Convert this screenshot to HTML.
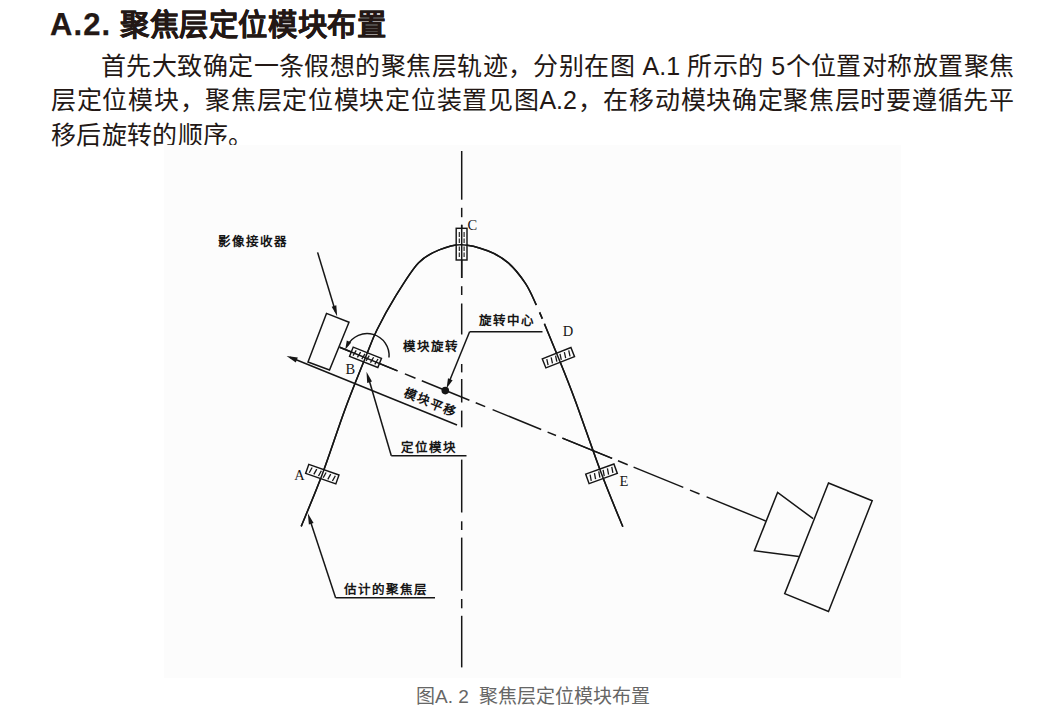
<!DOCTYPE html>
<html lang="zh-CN"><head><meta charset="utf-8"><style>
html,body{margin:0;padding:0;background:#fff;}
body{width:1041px;height:718px;position:relative;overflow:hidden;font-family:"Liberation Sans",sans-serif;color:#231815;}
h2 .lat{letter-spacing:1.1px;font-size:31px;}
h2{position:absolute;left:50px;top:3px;margin:0;font-size:29.3px;letter-spacing:0.6px;line-height:44px;font-weight:bold;-webkit-text-stroke:0.25px #231815;white-space:nowrap;}
.body{position:absolute;left:51px;top:48.5px;width:963px;margin:0;font-size:25px;line-height:34.5px;}
.body div{white-space:nowrap;}
.body .j{text-align:justify;text-align-last:justify;}
.body .ind{padding-left:50px;}
.imgbg{position:absolute;left:164px;top:145px;width:737px;height:533px;background:#fcfcfc;}
svg.fig{position:absolute;left:0;top:0;}
.lb{font-family:"Liberation Serif",serif;font-weight:bold;font-size:12.5px;letter-spacing:1.1px;fill:#161616;}
.lt{font-family:"Liberation Serif",serif;font-size:14.5px;fill:#161616;}
.cap{position:absolute;left:416px;top:683px;font-size:19px;line-height:28px;color:#666;white-space:nowrap;}
</style></head><body>
<h2><span class="lat">A.2.</span> 聚焦层定位模块布置</h2>
<div class="body"><div class="j ind">首先大致确定一条假想的聚焦层轨迹，分别在图 A.1 所示的 5个位置对称放置聚焦</div><div class="j">层定位模块，聚焦层定位模块定位装置见图A.2，在移动模块确定聚焦层时要遵循先平</div><div style="letter-spacing:0.35px">移后旋转的顺序。</div></div>
<div class="imgbg"></div>
<svg class="fig" width="1041" height="718" viewBox="0 0 1041 718"><line x1="461.7" y1="151.0" x2="461.7" y2="199.7" stroke="#161616" stroke-width="1.50"/><line x1="461.7" y1="207.8" x2="461.7" y2="217.2" stroke="#161616" stroke-width="1.50"/><line x1="461.7" y1="224.8" x2="461.7" y2="278.0" stroke="#161616" stroke-width="1.50"/><line x1="461.7" y1="286.2" x2="461.7" y2="295.0" stroke="#161616" stroke-width="1.50"/><line x1="461.7" y1="303.5" x2="461.7" y2="334.5" stroke="#161616" stroke-width="1.50"/><line x1="461.7" y1="364.0" x2="461.7" y2="372.4" stroke="#161616" stroke-width="1.50"/><line x1="461.7" y1="379.0" x2="461.7" y2="402.5" stroke="#161616" stroke-width="1.50"/><line x1="461.7" y1="410.6" x2="461.7" y2="427.3" stroke="#161616" stroke-width="1.50"/><line x1="461.7" y1="459.6" x2="461.7" y2="512.5" stroke="#161616" stroke-width="1.50"/><line x1="461.7" y1="521.3" x2="461.7" y2="530.0" stroke="#161616" stroke-width="1.50"/><line x1="461.7" y1="537.6" x2="461.7" y2="590.7" stroke="#161616" stroke-width="1.50"/><line x1="461.7" y1="599.0" x2="461.7" y2="608.3" stroke="#161616" stroke-width="1.50"/><line x1="461.7" y1="615.8" x2="461.7" y2="667.4" stroke="#161616" stroke-width="1.50"/><path d="M 301.2 526.4 C 304.7 517.7 315.0 493.6 322.3 474.2 C 329.6 454.8 337.6 429.5 344.8 410.0 C 352.0 390.5 360.1 370.7 365.5 357.4 C 370.9 344.1 371.8 340.3 376.9 330.0 C 382.0 319.7 389.0 306.9 395.9 295.7 C 402.8 284.5 411.2 270.5 418.4 262.9 C 425.6 255.3 432.0 252.9 439.2 249.9 C 446.4 246.9 453.5 244.5 461.6 244.7 C 469.7 244.8 479.8 247.8 487.6 250.8 C 495.4 253.8 502.0 257.4 508.3 262.9 C 514.6 268.4 521.0 276.7 525.6 283.6 C 530.2 290.5 532.8 297.6 536.0 304.4 C 539.2 311.2 540.9 315.3 544.6 324.2 C 548.3 333.1 553.3 345.1 558.4 357.7 C 563.5 370.3 567.8 380.6 575.0 400.0 C 582.2 419.4 593.5 452.7 601.5 473.8 C 609.5 494.9 619.2 517.9 622.8 526.7" fill="none" stroke="#161616" stroke-width="1.50"/><line x1="536.3" y1="305.2" x2="539.3" y2="312.4" stroke="#fcfcfc" stroke-width="3.00"/><line x1="542.2" y1="318.8" x2="544.4" y2="323.6" stroke="#fcfcfc" stroke-width="3.00"/><line x1="339.7" y1="347.3" x2="397.5" y2="370.9" stroke="#161616" stroke-width="1.50"/><line x1="404.9" y1="373.9" x2="415.5" y2="378.2" stroke="#161616" stroke-width="1.50"/><line x1="421.8" y1="380.8" x2="469.4" y2="400.2" stroke="#161616" stroke-width="1.50"/><line x1="475.7" y1="402.7" x2="485.2" y2="406.6" stroke="#161616" stroke-width="1.50"/><line x1="492.6" y1="409.6" x2="541.2" y2="429.5" stroke="#161616" stroke-width="1.50"/><line x1="547.6" y1="432.1" x2="556.0" y2="435.5" stroke="#161616" stroke-width="1.50"/><line x1="562.4" y1="438.1" x2="612.1" y2="458.4" stroke="#161616" stroke-width="1.50"/><line x1="618.0" y1="460.8" x2="627.7" y2="464.7" stroke="#161616" stroke-width="1.50"/><line x1="633.6" y1="467.1" x2="683.3" y2="487.4" stroke="#161616" stroke-width="1.50"/><line x1="690.0" y1="490.1" x2="699.5" y2="494.0" stroke="#161616" stroke-width="1.50"/><line x1="706.6" y1="496.9" x2="765.7" y2="521.0" stroke="#161616" stroke-width="1.50"/><line x1="290.0" y1="357.3" x2="457.0" y2="425.0" stroke="#161616" stroke-width="1.50"/><polygon points="286.6,355.9 297.8,357.6 295.8,362.4" fill="#161616"/><polygon points="326.5,313.4 349.0,322.2 329.5,370.0 308.0,362.0" fill="none" stroke="#161616" stroke-width="1.50" stroke-linejoin="miter"/><line x1="317.6" y1="252.4" x2="335.5" y2="311.5" stroke="#161616" stroke-width="1.50"/><polygon points="337.2,316.5 331.7,306.7 336.3,305.3" fill="#161616"/><g transform="translate(365.5 357.4) rotate(21.6)"><rect x="-15.2" y="-5.0" width="30.4" height="9.9" fill="#fcfcfc" stroke="#161616" stroke-width="1.45"/><path d="M -11.2 -3.1 l -1 6.1" stroke="#161616" stroke-width="1.3" fill="none"/><path d="M -6.5 -3.1 l -1 6.1" stroke="#161616" stroke-width="1.3" fill="none"/><path d="M -1.8 -3.1 l -1 6.1" stroke="#161616" stroke-width="1.3" fill="none"/><path d="M 2.8 -3.1 l -1 6.1" stroke="#161616" stroke-width="1.3" fill="none"/><path d="M 7.5 -3.1 l -1 6.1" stroke="#161616" stroke-width="1.3" fill="none"/><path d="M 12.2 -3.1 l -1 6.1" stroke="#161616" stroke-width="1.3" fill="none"/></g><rect x="456.2" y="228.3" width="10.8" height="31.7" fill="#fcfcfc" stroke="#161616" stroke-width="1.45"/><line x1="459.3" y1="232.0" x2="459.3" y2="237.0" stroke="#161616" stroke-width="1.10"/><line x1="459.3" y1="238.5" x2="459.3" y2="243.0" stroke="#161616" stroke-width="1.10"/><line x1="459.3" y1="246.5" x2="459.3" y2="251.0" stroke="#161616" stroke-width="1.10"/><line x1="459.3" y1="252.5" x2="459.3" y2="257.0" stroke="#161616" stroke-width="1.10"/><line x1="464.1" y1="232.0" x2="464.1" y2="237.0" stroke="#161616" stroke-width="1.10"/><line x1="464.1" y1="238.5" x2="464.1" y2="243.0" stroke="#161616" stroke-width="1.10"/><line x1="464.1" y1="246.5" x2="464.1" y2="251.0" stroke="#161616" stroke-width="1.10"/><line x1="464.1" y1="252.5" x2="464.1" y2="257.0" stroke="#161616" stroke-width="1.10"/><g transform="translate(558.4 357.7) rotate(-21.6)"><rect x="-15.4" y="-4.9" width="30.8" height="9.8" fill="#fcfcfc" stroke="#161616" stroke-width="1.45"/><path d="M -11.3 -3.0 l -1 6.1" stroke="#161616" stroke-width="1.3" fill="none"/><path d="M -6.6 -3.0 l -1 6.1" stroke="#161616" stroke-width="1.3" fill="none"/><path d="M -1.9 -3.0 l -1 6.1" stroke="#161616" stroke-width="1.3" fill="none"/><path d="M 2.9 -3.0 l -1 6.1" stroke="#161616" stroke-width="1.3" fill="none"/><path d="M 7.6 -3.0 l -1 6.1" stroke="#161616" stroke-width="1.3" fill="none"/><path d="M 12.3 -3.0 l -1 6.1" stroke="#161616" stroke-width="1.3" fill="none"/></g><g transform="translate(601.5 473.8) rotate(-19.8)"><rect x="-15.0" y="-5.0" width="30.0" height="10.0" fill="#fcfcfc" stroke="#161616" stroke-width="1.45"/><path d="M -11.0 -3.1 l -1 6.2" stroke="#161616" stroke-width="1.3" fill="none"/><path d="M -6.4 -3.1 l -1 6.2" stroke="#161616" stroke-width="1.3" fill="none"/><path d="M -1.8 -3.1 l -1 6.2" stroke="#161616" stroke-width="1.3" fill="none"/><path d="M 2.8 -3.1 l -1 6.2" stroke="#161616" stroke-width="1.3" fill="none"/><path d="M 7.4 -3.1 l -1 6.2" stroke="#161616" stroke-width="1.3" fill="none"/><path d="M 12.0 -3.1 l -1 6.2" stroke="#161616" stroke-width="1.3" fill="none"/></g><g transform="translate(322.3 474.2) rotate(19.4)"><rect x="-16.0" y="-4.8" width="32.0" height="9.5" fill="#fcfcfc" stroke="#161616" stroke-width="1.45"/><path d="M -11.8 -2.9 l -1 5.9" stroke="#161616" stroke-width="1.3" fill="none"/><path d="M -6.9 -2.9 l -1 5.9" stroke="#161616" stroke-width="1.3" fill="none"/><path d="M -2.0 -2.9 l -1 5.9" stroke="#161616" stroke-width="1.3" fill="none"/><path d="M 3.0 -2.9 l -1 5.9" stroke="#161616" stroke-width="1.3" fill="none"/><path d="M 7.9 -2.9 l -1 5.9" stroke="#161616" stroke-width="1.3" fill="none"/><path d="M 12.8 -2.9 l -1 5.9" stroke="#161616" stroke-width="1.3" fill="none"/></g><path d="M 301.2 526.4 C 304.7 517.7 315.0 493.6 322.3 474.2 C 329.6 454.8 337.6 429.5 344.8 410.0 C 352.0 390.5 360.1 370.7 365.5 357.4 C 370.9 344.1 371.8 340.3 376.9 330.0 C 382.0 319.7 389.0 306.9 395.9 295.7 C 402.8 284.5 411.2 270.5 418.4 262.9 C 425.6 255.3 432.0 252.9 439.2 249.9 C 446.4 246.9 453.5 244.5 461.6 244.7 C 469.7 244.8 479.8 247.8 487.6 250.8 C 495.4 253.8 502.0 257.4 508.3 262.9 C 514.6 268.4 521.0 276.7 525.6 283.6 C 530.2 290.5 532.8 297.6 536.0 304.4 C 539.2 311.2 540.9 315.3 544.6 324.2 C 548.3 333.1 553.3 345.1 558.4 357.7 C 563.5 370.3 567.8 380.6 575.0 400.0 C 582.2 419.4 593.5 452.7 601.5 473.8 C 609.5 494.9 619.2 517.9 622.8 526.7" fill="none" stroke="#161616" stroke-width="1.50"/><line x1="461.7" y1="224.8" x2="461.7" y2="278.0" stroke="#161616" stroke-width="1.50"/><line x1="339.7" y1="347.3" x2="397.5" y2="370.9" stroke="#161616" stroke-width="1.50"/><line x1="562.4" y1="438.1" x2="612.1" y2="458.4" stroke="#161616" stroke-width="1.50"/><line x1="536.3" y1="305.2" x2="539.3" y2="312.4" stroke="#fcfcfc" stroke-width="3.00"/><line x1="542.2" y1="318.8" x2="544.4" y2="323.6" stroke="#fcfcfc" stroke-width="3.00"/><path d="M 347.5 345.5 A 22 22 0 0 1 389 357.5" fill="none" stroke="#161616" stroke-width="1.5"/><polygon points="345.2,349.8 346.8,340.6 351.2,342.6" fill="#161616"/><circle cx="445.3" cy="390.6" r="3.8" fill="#161616"/><line x1="469.6" y1="331.7" x2="542.5" y2="331.7" stroke="#161616" stroke-width="1.50"/><line x1="469.6" y1="331.7" x2="449.5" y2="381.0" stroke="#161616" stroke-width="1.50"/><polygon points="446.5,388.5 448.0,378.3 452.6,380.2" fill="#161616"/><line x1="368.5" y1="378.0" x2="391.3" y2="455.8" stroke="#161616" stroke-width="1.50"/><polygon points="366.5,371.7 372.0,381.5 367.2,383.0" fill="#161616"/><line x1="391.3" y1="455.8" x2="466.5" y2="455.8" stroke="#161616" stroke-width="1.50"/><line x1="309.8" y1="519.5" x2="335.6" y2="597.8" stroke="#161616" stroke-width="1.50"/><polygon points="307.8,513.2 313.6,522.9 308.9,524.4" fill="#161616"/><line x1="335.6" y1="597.8" x2="435.0" y2="597.8" stroke="#161616" stroke-width="1.50"/><polygon points="828.5,483.0 872.2,500.7 828.5,611.5 784.7,593.7" fill="none" stroke="#161616" stroke-width="1.50" stroke-linejoin="miter"/><polyline points="813.1,518.7 777.6,492.4 754.4,550.7 798.9,556.6" fill="none" stroke="#161616" stroke-width="1.50" stroke-linejoin="miter"/><text x="217.9" y="245.5" class="lb">影像接收器</text><text x="402.5" y="351.0" class="lb">模块旋转</text><text x="479.0" y="325.0" class="lb">旋转中心</text><text x="403.0" y="396.0" class="lb" transform="rotate(22.0 403.0 396.0)">模块平移</text><text x="400.7" y="452.0" class="lb">定位模块</text><text x="343.5" y="593.5" class="lb">估计的聚焦层</text><text x="467.5" y="230.0" class="lt">C</text><text x="345.5" y="373.6" class="lt">B</text><text x="562.8" y="336.2" class="lt">D</text><text x="619.5" y="485.5" class="lt">E</text><text x="294.2" y="479.6" class="lt">A</text></svg>
<div class="cap">图A. 2&nbsp; 聚焦层定位模块布置</div>
</body></html>
